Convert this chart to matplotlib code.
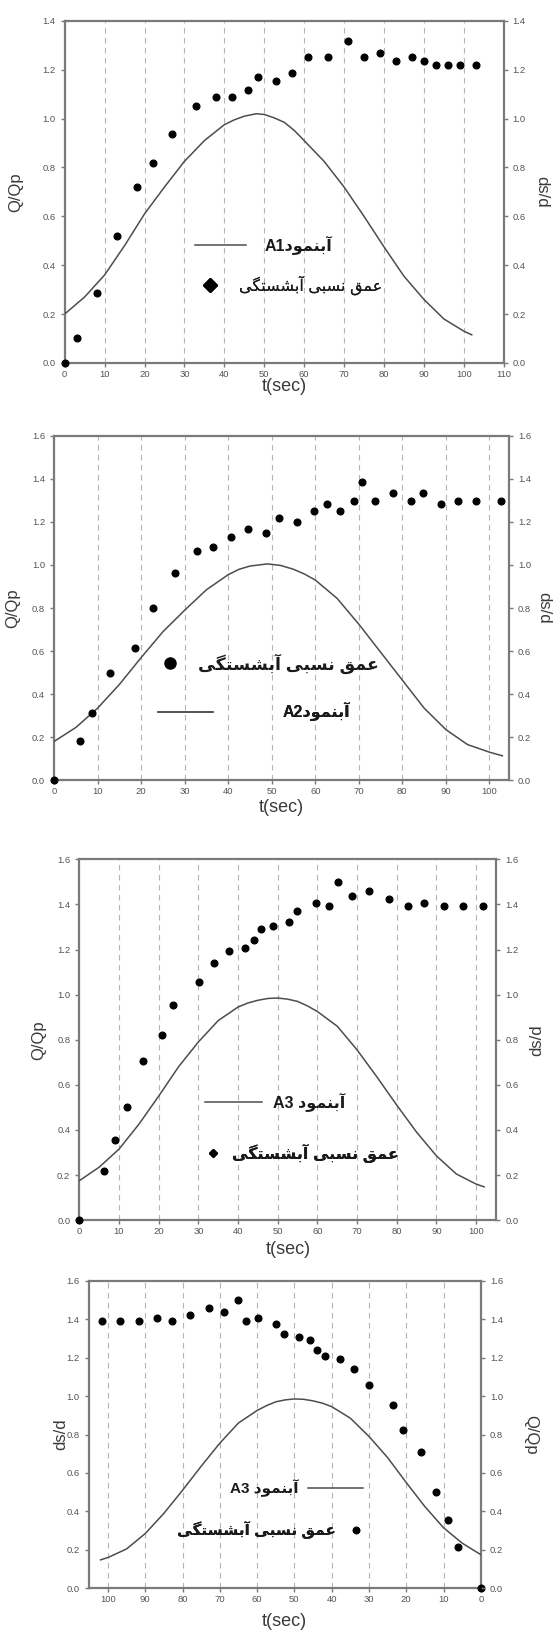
import re

import matplotlib
matplotlib.use("Agg")
import matplotlib.pyplot as plt
from matplotlib.lines import Line2D

plt.rcParams["font.family"] = ["Liberation Sans", "DejaVu Sans"]

# ---- data -------------------------------------------------------------
# measured relative scour depth (dots)
a1_t = [0, 3, 8, 13, 18, 22, 27, 33, 38, 42, 46, 48.5, 53, 57, 61, 66, 71, 75, 79, 83, 87, 90, 93, 96, 99, 103]
a1_ds = [0.0, 0.10, 0.285, 0.52, 0.72, 0.82, 0.935, 1.05, 1.087, 1.087, 1.118, 1.17, 1.152, 1.188, 1.252,
         1.252, 1.319, 1.252, 1.268, 1.237, 1.253, 1.237, 1.221, 1.221, 1.221, 1.221]

a2_t = [0, 5.9, 8.8, 12.8, 18.6, 22.7, 27.7, 32.8, 36.6, 40.7, 44.6, 48.6, 51.6, 55.7, 59.7, 62.8, 65.7,
        68.8, 70.8, 73.8, 77.9, 81.9, 84.8, 88.9, 92.9, 96.9, 102.7]
a2_ds = [0.0, 0.18, 0.3125, 0.50, 0.614, 0.80, 0.964, 1.065, 1.083, 1.132, 1.165, 1.149, 1.218, 1.199, 1.249,
         1.283, 1.249, 1.299, 1.384, 1.299, 1.335, 1.299, 1.335, 1.283, 1.299, 1.299, 1.299]

a3_t = [0, 6.2, 8.9, 11.9, 16.0, 20.9, 23.5, 30.1, 33.9, 37.8, 41.8, 43.9, 45.9, 48.7, 52.9, 54.8, 59.7,
        62.9, 65.1, 68.8, 73.0, 78.0, 82.9, 86.9, 91.8, 96.8, 101.7]
a3_ds = [0.0, 0.217, 0.354, 0.50, 0.707, 0.823, 0.955, 1.057, 1.142, 1.193, 1.207, 1.242, 1.29, 1.305, 1.324,
         1.373, 1.408, 1.391, 1.499, 1.439, 1.459, 1.424, 1.391, 1.408, 1.391, 1.391, 1.391]

# hydrographs Q/Qp (solid line)
a1_qt = [0, 5, 10, 15, 20, 25, 30, 35, 40, 42.5, 45, 48, 50, 52.5, 55, 57.5, 60, 65, 70, 75, 80, 85, 90,
         95, 100, 102]
a1_q = [0.20, 0.27, 0.36, 0.48, 0.61, 0.72, 0.825, 0.91, 0.975, 0.995, 1.01, 1.02, 1.017, 1.003, 0.985,
        0.952, 0.91, 0.825, 0.72, 0.60, 0.475, 0.355, 0.26, 0.18, 0.13, 0.115]

a2_qt = [0, 5, 10, 15, 20, 25, 30, 35, 40, 42.5, 45, 49, 52, 55, 57.5, 60, 65, 70, 75, 80, 85, 90, 95,
         100, 103]
a2_q = [0.18, 0.245, 0.335, 0.445, 0.57, 0.69, 0.79, 0.885, 0.955, 0.98, 0.995, 1.005, 0.998, 0.98,
        0.958, 0.93, 0.845, 0.725, 0.595, 0.465, 0.335, 0.235, 0.165, 0.13, 0.113]

a3_qt = [0, 5, 10, 15, 20, 25, 30, 35, 40, 42.5, 45, 47.5, 50, 52.5, 55, 57.5, 60, 65, 70, 75, 80, 85,
         90, 95, 100, 102]
a3_q = [0.175, 0.235, 0.315, 0.425, 0.55, 0.68, 0.79, 0.885, 0.945, 0.963, 0.975, 0.983, 0.985, 0.98,
        0.97, 0.95, 0.925, 0.86, 0.755, 0.635, 0.51, 0.39, 0.285, 0.205, 0.16, 0.148]

scour_label = "عمق نسبی آبشستگی"
model_labels = ["آبنمودA1", "آبنمودA2", "آبنمود A3", "آبنمود A3"]

# ---- minimal persian shaping (presentation forms, visual order) -------
FORMS = {
    "آ": ("\uFE81", "\uFE82", None, None),
    "ب": ("\uFE8F", "\uFE90", "\uFE91", "\uFE92"),
    "ت": ("\uFE95", "\uFE96", "\uFE97", "\uFE98"),
    "د": ("\uFEA9", "\uFEAA", None, None),
    "س": ("\uFEB1", "\uFEB2", "\uFEB3", "\uFEB4"),
    "ش": ("\uFEB5", "\uFEB6", "\uFEB7", "\uFEB8"),
    "ع": ("\uFEC9", "\uFECA", "\uFECB", "\uFECC"),
    "ق": ("\uFED5", "\uFED6", "\uFED7", "\uFED8"),
    "م": ("\uFEE1", "\uFEE2", "\uFEE3", "\uFEE4"),
    "ن": ("\uFEE5", "\uFEE6", "\uFEE7", "\uFEE8"),
    "و": ("\uFEED", "\uFEEE", None, None),
    "ی": ("\uFBFC", "\uFBFD", "\uFBFE", "\uFBFF"),
    "گ": ("\uFB92", "\uFB93", "\uFB94", "\uFB95"),
}


def shape(s):
    res = []
    for i, ch in enumerate(s):
        if ch not in FORMS:
            res.append(ch)
            continue
        prev = s[i - 1] if i > 0 else ""
        nxt = s[i + 1] if i + 1 < len(s) else ""
        jp = prev in FORMS and FORMS[prev][2] is not None
        jn = nxt in FORMS and FORMS[ch][2] is not None
        iso, fin, ini, med = FORMS[ch]
        res.append(med if jp and jn else fin if jp else ini if jn else iso)
    return "".join(res)


def rtl(s):
    runs = []
    for run in re.split(r"([A-Za-z0-9]+)", s):
        runs.append(run if re.fullmatch(r"[A-Za-z0-9]+", run) else shape(run)[::-1])
    return "".join(runs[::-1])


# ---- figure -----------------------------------------------------------
W, H = 559, 1636
fig = plt.figure(figsize=(W / 100, H / 100), dpi=100)

GREY = "#7a7a7a"
TXT = "#3a3a3a"


def px_axes(l, r, t, b):
    return fig.add_axes([l / W, 1 - b / H, (r - l) / W, (b - t) / H])


def entry(ax, handle, label, hx0, hx1, tx, y, fs, weight, first=True):
    axw = ax.get_position().width * fig.get_figwidth() * 72
    hl = (hx1 - hx0) * axw / fs
    pad = (tx - hx1 if first else hx0 - tx) * axw / fs
    leg = ax.legend([handle], [label], loc="center left" if first else "center right",
                    bbox_to_anchor=(hx0 if first else hx1, y), frameon=False, borderpad=0,
                    borderaxespad=0, handlelength=hl, handletextpad=pad, markerfirst=first,
                    prop=dict(family=["Liberation Sans", "DejaVu Sans"], size=fs, weight=weight),
                    labelcolor="#1a1a1a", numpoints=1)
    ax.add_artist(leg)


def panel(rect, t, ds, qt, q, xmax, xticks, ymax, labpos, invert=False, rot_right=270):
    ax = px_axes(*rect)
    ax.plot(qt, q, color="#4d4d4d", lw=1.1, zorder=3)
    ax.plot(t, ds, ls="none", marker="o", ms=4.8, color="black", zorder=4, clip_on=False)
    ax.set_xlim((xmax, 0) if invert else (0, xmax))
    ax.set_ylim(0, ymax)
    ax.set_xticks(xticks)
    yt = [round(0.2 * i, 1) for i in range(int(round(ymax / 0.2)) + 1)]
    ax.set_yticks(yt)
    ax.set_yticklabels([f"{v:.1f}" for v in yt])
    ax.grid(axis="x", ls=(0, (5, 4)), color="#b5b5b5", lw=0.8)
    ax.set_axisbelow(True)
    for s in ax.spines.values():
        s.set_color(GREY)
        s.set_linewidth(1.6)
    ax.tick_params(colors=GREY, labelcolor="#555555", labelsize=6.8, length=3, width=1)
    ax.tick_params(axis="x", pad=2)

    ax2 = ax.twinx()
    ax2.set_ylim(0, ymax)
    ax2.set_yticks(yt)
    ax2.set_yticklabels([f"{v:.1f}" for v in yt])
    ax2.tick_params(colors=GREY, labelcolor="#555555", labelsize=6.8, length=3, width=1)
    for s in ax2.spines.values():
        s.set_visible(False)

    lx, rx, xly = labpos
    ymid = 1 - (rect[2] + rect[3]) / 2 / H
    left_lab, right_lab = ("ds/d", "Q/Qp") if invert else ("Q/Qp", "ds/d")
    ax.set_ylabel(left_lab, fontsize=12, color=TXT, va="center")
    ax.yaxis.set_label_coords(lx / W, ymid, transform=fig.transFigure)
    ax2.set_ylabel(right_lab, fontsize=12, color=TXT, rotation=rot_right, va="center")
    ax2.yaxis.set_label_coords(rx / W, ymid, transform=fig.transFigure)
    ax.set_xlabel("t(sec)", fontsize=13, color=TXT, va="center")
    ax.xaxis.set_label_coords((rect[0] + rect[1]) / 2 / W, 1 - xly / H, transform=fig.transFigure)
    return ax


line_h = Line2D([], [], color="#4d4d4d", lw=1.1)

# panel 1 - A1
ax1 = panel((64.7, 503.7, 20.9, 362.9), a1_t, a1_ds, a1_qt, a1_q, 110, range(0, 111, 10), 1.4,
            (15.6, 542, 386.5))
entry(ax1, line_h, rtl(model_labels[0]), 0.296, 0.414, 0.455, 0.344, 11.5, "bold")
entry(ax1, Line2D([], [], ls="none", marker="D", ms=7, color="black"), rtl(scour_label),
      0.316, 0.346, 0.397, 0.226, 11.5, "normal")

# panel 2 - A2
ax2 = panel((54.2, 508.9, 435.9, 780.1), a2_t, a2_ds, a2_qt, a2_q, 104.5, range(0, 101, 10), 1.6,
            (12.5, 544, 808))
entry(ax2, Line2D([], [], ls="none", marker="o", ms=8, color="black"), rtl(scour_label),
      0.238, 0.271, 0.317, 0.339, 12.5, "bold")
entry(ax2, line_h, rtl(model_labels[1]), 0.229, 0.349, 0.503, 0.199, 11.5, "bold")

# panel 3 - A3
ax3 = panel((79.3, 496.4, 859.3, 1220.2), a3_t, a3_ds, a3_qt, a3_q, 105.1, range(0, 101, 10), 1.6,
            (38.6, 537, 1250), rot_right=90)
entry(ax3, line_h, rtl(model_labels[2]), 0.301, 0.438, 0.464, 0.327, 11.5, "bold")
entry(ax3, Line2D([], [], ls="none", marker="D", ms=4.5, color="black"), rtl(scour_label),
      0.305, 0.335, 0.365, 0.186, 11.5, "bold")

# panel 4 - A3 drawn mirrored (time axis reversed)
ax4 = panel((88.6, 480.8, 1280.7, 1588.3), a3_t, a3_ds, a3_qt, a3_q, 105.2, range(0, 101, 10), 1.6,
            (61, 531, 1622), invert=True)
entry(ax4, line_h, rtl(model_labels[3]), 0.560, 0.700, 0.536, 0.326, 11, "bold", first=False)
entry(ax4, Line2D([], [], ls="none", marker="o", ms=4.5, color="black"), rtl(scour_label),
      0.666, 0.696, 0.630, 0.188, 11, "bold", first=False)

fig.savefig("out.png", dpi=100)
